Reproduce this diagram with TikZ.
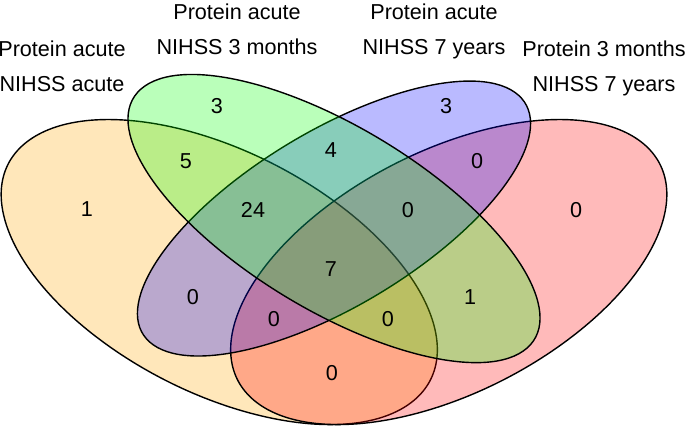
\documentclass[tikz,border=0pt]{standalone}
\usepackage{fontspec}
\setmainfont{Liberation Sans}
\definecolor{vorange}{RGB}{255,165,0}
\definecolor{vgreen}{RGB}{0,255,0}
\definecolor{vblue}{RGB}{0,0,255}
\definecolor{vred}{RGB}{255,0,0}
\begin{document}
\begin{tikzpicture}[x=0.5pt,y=0.5pt,
		setshape/.style={draw=black,line width=0.7pt,fill opacity=0.27},
		setname/.style={align=center,anchor=north,inner sep=0pt,font=\fontsize{10.8}{17.5}\selectfont},
		count/.style={inner sep=0pt,font=\fontsize{10.8}{12}\selectfont}]
		\useasboundingbox (0,0) rectangle (685,429);

		% the four sets, drawn in unit coordinates
		\begin{scope}[shift={(-48.5,-94.5)},xscale=765,yscale=535]
			\filldraw [setshape,fill=vorange,rotate around={-45:(0.35,0.47)}] (0.35,0.47) ellipse [x radius=0.35,y radius=0.2];
			\filldraw [setshape,fill=vred,rotate around={45:(0.65,0.47)}] (0.65,0.47) ellipse [x radius=0.35,y radius=0.2];
			\filldraw [setshape,fill=vblue,rotate around={45:(0.5,0.57)}] (0.5,0.57) ellipse [x radius=0.334,y radius=0.143];
			\filldraw [setshape,fill=vgreen,rotate around={-45:(0.5,0.57)}] (0.5,0.57) ellipse [x radius=0.35,y radius=0.15];
		\end{scope}

		% set names
		\node [setname] (name-acute) at (62,389) {Protein acute\\NIHSS acute};
		\node [setname] (name-3months) at (237,426) {Protein acute\\NIHSS 3 months};
		\node [setname] (name-7years) at (434,426) {Protein acute\\NIHSS 7 years};
		\node [setname] (name-protein3m) at (604,389) {Protein 3 months\\NIHSS 7 years};

		% counts
		\node [count] (a) at (87,220) {1};
		\node [count] (b) at (217,323) {3};
		\node [count] (c) at (446,323) {3};
		\node [count] (d) at (576,219) {0};
		\node [count] (ab) at (186,268) {5};
		\node [count] (bc) at (331,279) {4};
		\node [count] (cd) at (477,268) {0};
		\node [count] (abc) at (253,219) {24};
		\node [count] (bcd) at (408,219) {0};
		\node [count] (abcd) at (331,160) {7};
		\node [count] (ac) at (193,132) {0};
		\node [count] (bd) at (470,132) {1};
		\node [count] (acd) at (274,110) {0};
		\node [count] (abd) at (388,110) {0};
		\node [count] (ad) at (332,56) {0};
	\end{tikzpicture}
\end{document}
